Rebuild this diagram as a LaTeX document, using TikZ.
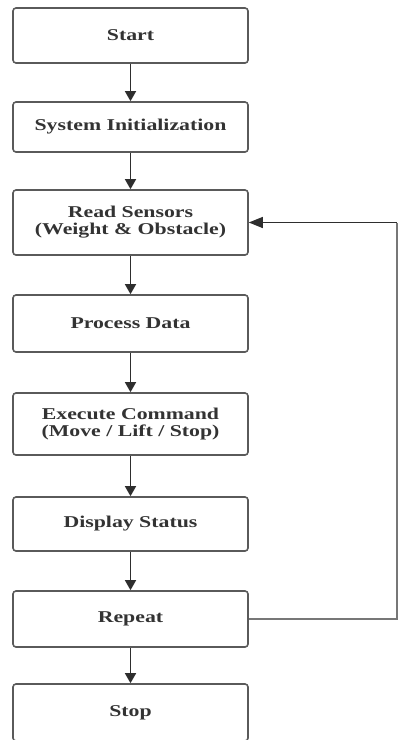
\documentclass[tikz,border=0pt]{standalone}
\usepackage{fontspec}
\setmainfont[FakeStretch=1.32]{Liberation Serif}
\usetikzlibrary{arrows.meta}
\definecolor{boxline}{HTML}{5A5A5A}
\definecolor{txt}{HTML}{333333}
\definecolor{arr}{HTML}{2E2E2E}
\definecolor{fb}{HTML}{777777}
\begin{document}
\begin{tikzpicture}[x=1pt,y=-1pt,
  stepbox/.style={draw=boxline, line width=1.6pt, rounded corners=3pt, fill=white,
    minimum width=235pt, inner sep=0pt, align=center, text=txt,
    font=\fontsize{16.5}{17}\selectfont\bfseries},
  flow/.style={draw=arr, line width=1.5pt, -{Triangle[length=10pt,width=11pt]}},
  back/.style={draw=fb, line width=1.3pt}]
\useasboundingbox (0,0) rectangle (398,740);
\node[stepbox, minimum height=55pt] (start) at (130.5,35.5) {Start};
\node[stepbox, minimum height=50pt] (init) at (130.5,127) {System Initialization};
\node[stepbox, minimum height=65pt] (read) at (130.5,222.5) {Read Sensors\\(Weight \& Obstacle)};
\node[stepbox, minimum height=57pt] (proc) at (130.5,323.5) {Process Data};
\node[stepbox, minimum height=62pt] (exec) at (130.5,424) {Execute Command\\(Move / Lift / Stop)};
\node[stepbox, minimum height=54pt] (disp) at (130.5,524) {Display Status};
\node[stepbox, minimum height=56pt] (rep) at (130.5,619) {Repeat};
\node[stepbox, minimum height=57pt] (stop) at (130.5,712.5) {Stop};
\coordinate (c1) at (397,619);
\coordinate (c2) at (397,222.5);
\draw[flow] (start) -- (init);
\draw[flow] (init) -- (read);
\draw[flow] (read) -- (proc);
\draw[flow] (proc) -- (exec);
\draw[flow] (exec) -- (disp);
\draw[flow] (disp) -- (rep);
\draw[flow] (rep) -- (stop);
\draw[back] (rep.east) -- (c1) -- (c2);
\draw[back, -{Triangle[length=14pt,width=11pt]}, draw=arr] (c2) -- (read.east);
\end{tikzpicture}
\end{document}
